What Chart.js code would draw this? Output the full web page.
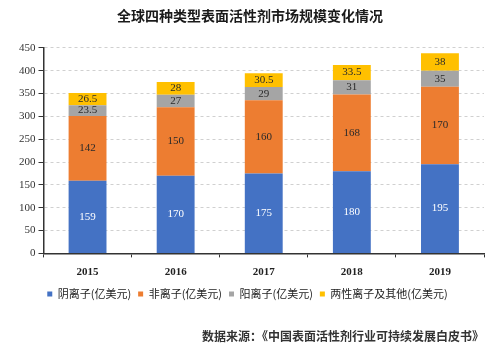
<!DOCTYPE html>
<html>
<head>
<meta charset="utf-8">
<script src="https://cdn.jsdelivr.net/npm/chart.js@4"></script>
<style>
  html, body { margin: 0; padding: 0; background: #fff; }
  #wrap { width: 500px; height: 359px; }
</style>
</head>
<body>
<div id="wrap"><canvas id="myChart"></canvas></div>
<script>
var years = ['2015', '2016', '2017', '2018', '2019'];
var anionic = [159, 170, 175, 180, 195];
var nonionic = [142, 150, 160, 168, 170];
var cationic = [23.5, 27, 29, 31, 35];
var amphoteric = [26.5, 28, 30.5, 33.5, 38];
var seriesNames = ['阴离子(亿美元)', '非离子(亿美元)', '阳离子(亿美元)', '两性离子及其他(亿美元)'];
var yTicks = [0, 50, 100, 150, 200, 250, 300, 350, 400, 450];

var serif = "'Liberation Serif', 'Noto Sans CJK SC', serif";

// labels inside the bar segments
var barLabels = {
    id: 'barLabels',
    afterDatasetsDraw: function (chart) {
        var ctx = chart.ctx;
        ctx.save();
        ctx.font = '11px ' + serif;
        ctx.textAlign = 'center';
        ctx.textBaseline = 'middle';
        chart.data.datasets.forEach(function (ds, i) {
            var meta = chart.getDatasetMeta(i);
            meta.data.forEach(function (bar, j) {
                ctx.fillStyle = i === 0 ? '#ffffff' : '#2a2a2a';
                ctx.fillText(String(ds.data[j]), bar.x, (bar.y + bar.base) / 2);
            });
        });
        ctx.restore();
    }
};

var ctx = document.getElementById('myChart').getContext('2d');

var data = {
    labels: years,
    datasets: [
        { label: seriesNames[0], data: anionic, backgroundColor: '#4472c4' },
        { label: seriesNames[1], data: nonionic, backgroundColor: '#ed7d31' },
        { label: seriesNames[2], data: cationic, backgroundColor: '#a5a5a5' },
        { label: seriesNames[3], data: amphoteric, backgroundColor: '#ffc000' }
    ]
};

var options = {
    responsive: true,
    maintainAspectRatio: false,
    animation: false,
    layout: { padding: { left: 16, right: 16, top: 0, bottom: 11 } },
    datasets: { bar: { categoryPercentage: 1, barPercentage: 0.43 } },
    scales: {
        x: {
            stacked: true,
            grid: { display: true, drawOnChartArea: false, offset: true, tickLength: 4, color: '#333' },
            border: { color: '#333', width: 1.5 },
            ticks: { color: '#222', font: { family: serif, size: 11, weight: 'bold' }, padding: 8 }
        },
        y: {
            stacked: true,
            min: 0,
            max: 450,
            afterBuildTicks: function (axis) {
                axis.ticks = yTicks.map(function (v) { return { value: v }; });
            },
            grid: { color: '#d0d0d0', tickLength: 5, tickColor: '#333', lineWidth: 1 },
            border: { color: '#333', width: 1.5, dash: [3, 3] },
            ticks: { color: '#333', font: { family: serif, size: 11 }, padding: 3 }
        }
    },
    plugins: {
        title: {
            display: true,
            text: '全球四种类型表面活性剂市场规模变化情况',
            color: '#1a1a1a',
            font: { family: "'Noto Sans CJK SC', sans-serif", size: 14, weight: 'bold' },
            padding: { top: 7, bottom: 24 }
        },
        subtitle: {
            display: true,
            position: 'bottom',
            align: 'end',
            text: '数据来源：《中国表面活性剂行业可持续发展白皮书》',
            color: '#333',
            font: { family: "'Noto Sans CJK SC', sans-serif", size: 12, weight: 'bold' },
            padding: { top: 20, bottom: 4 }
        },
        legend: {
            position: 'bottom',
            labels: {
                boxWidth: 5,
                boxHeight: 5,
                padding: 2,
                color: '#222',
                font: { family: "'Noto Sans CJK SC', sans-serif", size: 11 },
                generateLabels: function (chart) {
                    var items = Chart.defaults.plugins.legend.labels.generateLabels(chart);
                    items.forEach(function (it) { it.text = it.text + '  '; });
                    return items;
                }
            }
        },
        tooltip: { enabled: false }
    }
};

var myBarChart = new Chart(ctx, {
    type: 'bar',
    data: data,
    options: options,
    plugins: [barLabels]
});
</script>
</body>
</html>
